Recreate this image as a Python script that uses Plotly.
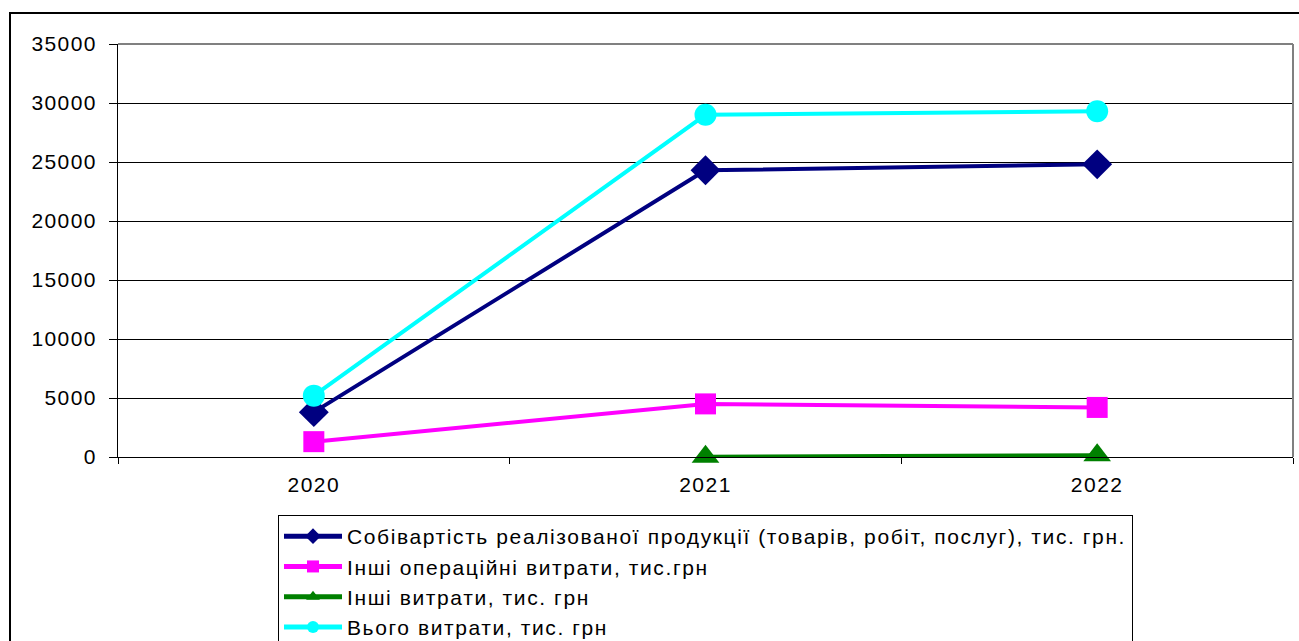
import plotly.graph_objects as go

years = ["2020", "2021", "2022"]
cost_of_sales = [3800, 24300, 24800]
other_operating = [1300, 4500, 4200]
other_expenses = [None, 30, 150]
total_expenses = [5200, 29000, 29300]

series_names = [
    "Собівартість реалізованої продукції (товарів, робіт, послуг), тис. грн.",
    "Інші операційні витрати, тис.грн",
    "Інші витрати, тис. грн",
    "Вього витрати, тис. грн",
]
y_ticks = [0, 5000, 10000, 15000, 20000, 25000, 30000, 35000]

W, H = 1299, 641
L, R, T, B = 118, 6, 44, 184
pw, ph = W - L - R, H - T - B


def px_x(x):
    return (x - L) / pw


def px_y(y):
    return (H - B - y) / ph


def spaced(text, px):
    # slightly widened lettering, as in the original office chart
    return f'<span style="letter-spacing:{px}px">{text}</span>'


fig = go.Figure()
styles = [
    ("#000080", "diamond", 23),
    ("#FF00FF", "square", 21),
    ("#008000", "triangle-up", 24),
    ("#00FFFF", "circle", 22),
]
for name, vals, (color, sym, size) in zip(
    series_names, [cost_of_sales, other_operating, other_expenses, total_expenses], styles
):
    fig.add_trace(go.Scatter(
        x=years, y=vals, name=spaced(name, 1.6), mode="lines+markers",
        line=dict(color=color, width=4),
        marker=dict(color=color, symbol=sym, size=size, line=dict(width=0)),
        connectgaps=False, cliponaxis=False,
    ))

font = "Liberation Sans, Arial, sans-serif"
fig.update_layout(
    width=W, height=H,
    margin=dict(l=L, r=R, t=T, b=B, pad=0),
    paper_bgcolor="white", plot_bgcolor="white",
    font=dict(family=font, size=21, color="black"),
    showlegend=True,
    legend=dict(
        x=px_x(278), xref="paper", xanchor="left",
        y=(H - 515) / H, yref="container", yanchor="top",
        bordercolor="black", borderwidth=1, bgcolor="white",
        font=dict(family=font, size=21, color="black"),
        itemwidth=58, itemsizing="constant",
        tracegroupgap=0,
    ),
    xaxis=dict(
        type="category", range=[-0.5, 2.5],
        tickvals=years, ticktext=[spaced(y, 1.5) for y in years],
        showline=True, linecolor="black", linewidth=1,
        ticks="outside", tickson="boundaries", ticklen=6, tickcolor="black",
        ticklabelstandoff=9,
        showgrid=False, zeroline=False,
        tickfont=dict(size=21),
    ),
    yaxis=dict(
        range=[0, 35000], tickvals=y_ticks,
        ticktext=[spaced(str(v), 1.4) for v in y_ticks],
        showline=True, linecolor="black", linewidth=1,
        ticks="outside", ticklen=8, tickcolor="black",
        ticklabelstandoff=8,
        showgrid=True, gridcolor="black", gridwidth=1,
        zeroline=False, tickfont=dict(size=21),
    ),
    shapes=[
        # plot area border (top and right edges in grey)
        dict(type="line", xref="paper", yref="paper", x0=0, x1=1, y0=1, y1=1,
             line=dict(color="#808080", width=2), layer="above"),
        dict(type="line", xref="paper", yref="paper", x0=1, x1=1, y0=0, y1=1,
             line=dict(color="#808080", width=2), layer="above"),
        # outer chart frame
        dict(type="rect", xref="paper", yref="paper",
             x0=px_x(10), x1=px_x(1310), y0=px_y(660), y1=px_y(13),
             line=dict(color="black", width=2), layer="below"),
    ],
)

fig.write_html("out.html")
